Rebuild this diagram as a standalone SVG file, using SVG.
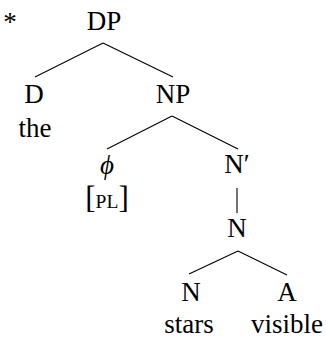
<svg xmlns="http://www.w3.org/2000/svg" width="326" height="341" viewBox="0 0 326 341">
<style>
text{font-family:"Liberation Serif","Times New Roman",serif;font-size:27px;fill:#000;text-anchor:middle}
.sc{font-size:19.5px}
.br{font-size:31px}
line{stroke:#000;stroke-width:1.1}
</style>
<rect width="326" height="341" fill="#fff"/>
<g id="star"><text x="10" y="31">*</text></g>
<g id="DP"><text x="104" y="30">DP</text></g>
<g id="D"><text x="34" y="103">D</text><text x="35" y="137">the</text></g>
<g id="NP"><text x="173" y="103">NP</text></g>
<g id="phi"><text x="107" y="174" font-style="italic">ϕ</text><text x="107" y="208"><tspan class="br">[</tspan><tspan class="sc">PL</tspan><tspan class="br">]</tspan></text></g>
<g id="Nbar"><text x="237" y="173">N′</text></g>
<g id="N1"><text x="237" y="237">N</text></g>
<g id="N2"><text x="191" y="301">N</text><text x="189" y="333">stars</text></g>
<g id="A"><text x="287" y="301">A</text><text x="287" y="333">visible</text></g>
<g id="connectors">
<line x1="103" y1="43" x2="35" y2="77"/>
<line x1="103" y1="43" x2="173" y2="77"/>
<line x1="172" y1="116" x2="107" y2="149"/>
<line x1="172" y1="116" x2="238" y2="149"/>
<line x1="237" y1="188" x2="237" y2="213"/>
<line x1="238" y1="251" x2="189" y2="274"/>
<line x1="238" y1="251" x2="287" y2="275"/>
</g>
</svg>
